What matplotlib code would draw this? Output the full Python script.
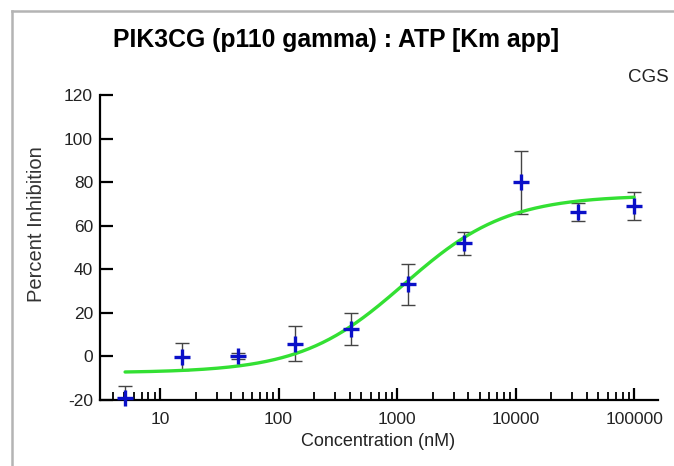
import numpy as np
import matplotlib
matplotlib.use("Agg")
import matplotlib.pyplot as plt
from matplotlib import font_manager
from matplotlib.lines import Line2D
from matplotlib.ticker import FixedLocator, FuncFormatter, NullFormatter

# concentrations (nM) and percent inhibition
conc = [5.08, 15.2, 45.7, 137, 412, 1235, 3704, 11111, 33333, 100000]
inhib = [-19.2, -0.1, 0.2, 5.8, 12.6, 33.1, 51.9, 79.9, 66.3, 69.0]
err = [5.6, 6.1, 1.5, 8.1, 7.5, 9.4, 5.3, 14.3, 4.0, 6.6]

# fitted sigmoid
fit_bottom = -7.5
fit_top = 74.0
fit_ic50 = 1150.0
fit_hill = 1.0

y_ticks = [-20, 0, 20, 40, 60, 80, 100, 120]
x_ticks = [10, 100, 1000, 10000, 100000]

names = {f.name for f in font_manager.fontManager.ttflist}
base = "Liberation Sans" if "Liberation Sans" in names else "DejaVu Sans"
plt.rcParams["font.family"] = base
plt.rcParams["axes.unicode_minus"] = False

fig = plt.figure(figsize=(6.74, 4.66), dpi=100)
ax = fig.add_axes([100 / 674, 1 - 400 / 466, 558 / 674, 305 / 466])

# gray frame round the picture
fig.add_artist(Line2D([12 / 674, 12 / 674], [0, 1 - 11 / 466],
                      transform=fig.transFigure, color="#b4b4b4", lw=1.8))
fig.add_artist(Line2D([12 / 674, 1], [1 - 11 / 466, 1 - 11 / 466],
                      transform=fig.transFigure, color="#b4b4b4", lw=1.8))

ax.errorbar(conc, inhib, yerr=err, fmt="none", ecolor="#444444",
            elinewidth=1.0, capsize=5, capthick=1.0, zorder=2)

xs = np.logspace(np.log10(conc[0]), np.log10(conc[-1]), 300)
ys = fit_bottom + (fit_top - fit_bottom) / (1 + (fit_ic50 / xs) ** fit_hill)
ax.plot(xs, ys, color="#33e033", lw=2.4, zorder=3, solid_capstyle="round")

ax.plot(conc, inhib, linestyle="none", marker="+", markersize=12,
        markeredgewidth=2.4, color="#0a10c8", zorder=4, clip_on=False)

ax.set_xscale("log")
ax.set_xlim(3.12, 1.59e5)
ax.set_ylim(-20, 120)
ax.xaxis.set_major_locator(FixedLocator(x_ticks))
ax.xaxis.set_major_formatter(FuncFormatter(lambda v, p: "%d" % round(v)))
minors = [m * 10 ** d for d in range(0, 6) for m in range(2, 10)]
ax.xaxis.set_minor_locator(FixedLocator([m for m in minors if 3.12 <= m <= 1.59e5]))
ax.xaxis.set_minor_formatter(NullFormatter())
ax.set_yticks(y_ticks)

for s in ["top", "right"]:
    ax.spines[s].set_visible(False)
for s in ["left", "bottom"]:
    ax.spines[s].set_linewidth(1.6)

ax.tick_params(axis="both", which="major", direction="in", length=9,
               width=1.6, labelsize=12.5, colors="black")
ax.tick_params(axis="x", which="minor", direction="in", length=5.5, width=1.3)
ax.tick_params(axis="x", which="major", pad=9)
ax.tick_params(axis="y", which="major", pad=5)
for lab in ax.get_xticklabels() + ax.get_yticklabels():
    lab.set_color("#222222")

fig.text(0.4985, 1 - 40 / 466, "PIK3CG (p110 gamma) : ATP [Km app]",
         ha="center", va="center", fontsize=17.8, fontweight="bold")
fig.text(648 / 674, 1 - 77 / 466, "CGS", ha="center", va="center",
         fontsize=13.5, color="#222222")
fig.text(37 / 674, 1 - 224 / 466, "Percent Inhibition", rotation=90,
         ha="center", va="center", fontsize=14.5, color="#333333")
fig.text(378 / 674, 1 - 442 / 466, "Concentration (nM)", ha="center",
         va="center", fontsize=13, color="#222222")

fig.savefig("out.png", dpi=100)
